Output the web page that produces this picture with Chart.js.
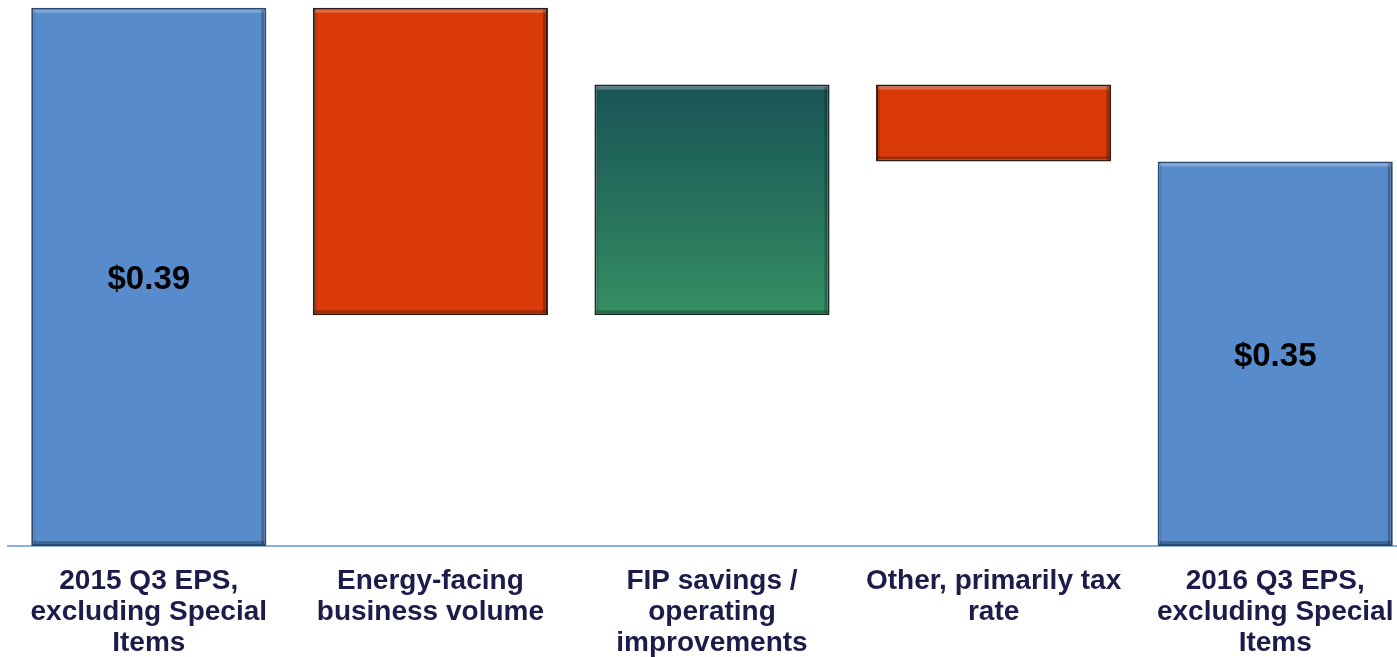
<!DOCTYPE html>
<html>
<head>
<meta charset="utf-8">
<script src="https://cdn.jsdelivr.net/npm/chart.js@4/dist/chart.umd.min.js"></script>
<style>
    html, body { margin: 0; padding: 0; background: #ffffff; overflow: hidden; }
    #wrap { width: 1416px; height: 657px; position: relative; }
</style>
</head>
<body>
<div id="wrap"><canvas id="eps-bridge"></canvas></div>
<script>
// categories and values (EPS bridge, $ per share)
var categories = [
    ['2015 Q3 EPS,', 'excluding Special', 'Items'],
    ['Energy-facing', 'business volume'],
    ['FIP savings /', 'operating', 'improvements'],
    ['Other, primarily tax', 'rate'],
    ['2016 Q3 EPS,', 'excluding Special', 'Items']
];
var stepValues = [0.39, -0.08, 0.06, -0.02, 0.35];
var isTotal = [true, false, false, false, true];
var yAxisMin = 0.25;
var yAxisMax = 0.392;

// build floating ranges for the waterfall
var ranges = [];
var running = 0;
for (var i = 0; i < stepValues.length; i++) {
    if (isTotal[i]) {
        running = stepValues[i];
        ranges.push([yAxisMin, running]);
    } else {
        var prev = running;
        running = +(running + stepValues[i]).toFixed(4);
        ranges.push([Math.min(prev, running), Math.max(prev, running)]);
    }
}

function barFill(context) {
    var i = context.dataIndex;
    if (isTotal[i]) return '#588BCB';
    if (stepValues[i] < 0) return '#D93A07';
    var chart = context.chart;
    if (!chart.chartArea) return '#2A7060';
    var y = chart.scales.y;
    var r = ranges[i];
    var g = chart.ctx.createLinearGradient(0, y.getPixelForValue(r[1]), 0, y.getPixelForValue(r[0]));
    g.addColorStop(0, '#1A5457');
    g.addColorStop(0.5, '#26705C');
    g.addColorStop(1, '#368F63');
    return g;
}

function barBorder(context) {
    var i = context.dataIndex;
    if (isTotal[i]) return '#284A72';
    if (stepValues[i] < 0) return '#2E1C14';
    return '#1C2A2A';
}

// draws bevel edges and the $ labels inside total bars
var barDecor = {
    id: 'barDecor',
    afterDatasetsDraw: function(chart) {
        var ctx = chart.ctx;
        var meta = chart.getDatasetMeta(0);
        meta.data.forEach(function(bar, i) {
            var left = bar.x - bar.width / 2;
            var right = bar.x + bar.width / 2;
            var top = Math.min(bar.y, bar.base);
            var bottom = Math.max(bar.y, bar.base);
            ctx.save();
            ctx.fillStyle = 'rgba(255,255,255,0.25)';
            ctx.fillRect(left + 2, top + 2, right - left - 4, 3);
            ctx.fillStyle = 'rgba(0,0,0,0.25)';
            ctx.fillRect(left + 2, bottom - 5, right - left - 4, 3);
            ctx.fillRect(right - 5, top + 2, 3, bottom - top - 4);
            ctx.fillStyle = 'rgba(0,0,0,0.12)';
            ctx.fillRect(left + 2, top + 2, 2, bottom - top - 4);
            ctx.restore();
            if (isTotal[i]) {
                ctx.save();
                ctx.fillStyle = '#000000';
                ctx.font = 'bold 33px "Liberation Sans", Arial, sans-serif';
                ctx.textAlign = 'center';
                ctx.textBaseline = 'middle';
                ctx.fillText('$' + stepValues[i].toFixed(2), bar.x, (top + bottom) / 2 + 3);
                ctx.restore();
            }
        });
    }
};

var ctx = document.getElementById('eps-bridge').getContext('2d');
var epsChart = new Chart(ctx, {
    type: 'bar',
    data: {
        labels: categories,
        datasets: [{
            data: ranges,
            backgroundColor: barFill,
            borderColor: barBorder,
            borderWidth: 2,
            borderSkipped: false,
            barPercentage: 0.835,
            categoryPercentage: 1
        }]
    },
    options: {
        responsive: true,
        maintainAspectRatio: false,
        animation: false,
        layout: { padding: { left: 8, right: 0, top: 0, bottom: 0 } },
        plugins: {
            legend: { display: false },
            tooltip: { enabled: false }
        },
        scales: {
            x: {
                grid: { display: false, drawTicks: false },
                border: { display: true, color: '#8FB0D6', width: 2 },
                ticks: {
                    color: '#1C1C4A',
                    padding: 20,
                    maxRotation: 0,
                    autoSkip: false,
                    font: { family: '"Liberation Sans", Arial, sans-serif', size: 28, weight: 'bold', lineHeight: 1.1 }
                },
                afterFit: function(scale) { scale.height = 111; }
            },
            y: {
                display: false,
                min: yAxisMin,
                max: yAxisMax
            }
        }
    },
    plugins: [barDecor]
});
</script>
</body>
</html>
